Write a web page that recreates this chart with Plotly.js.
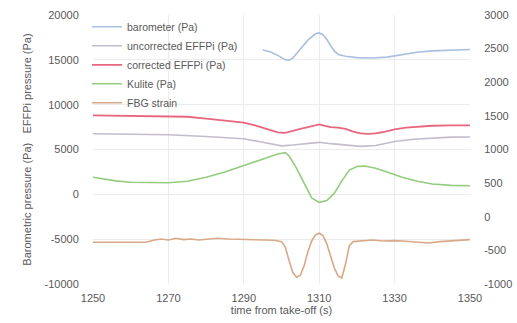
<!DOCTYPE html>
<html>
<head>
<meta charset="utf-8">
<script src="https://cdn.plot.ly/plotly-3.0.1.min.js"></script>
<style>html,body{margin:0;padding:0;background:#fff;}#chart{width:517px;height:323px;}</style>
</head>
<body>
<div id="chart"></div>
<script>
// barometer (Pa) - left axis
const baroT = [1295,1297,1299,1301,1302,1303,1305,1307,1309,1310,1311,1312,1313,1314,1315,1317,1320,1324,1328,1332,1336,1340,1345,1350];
const baroV = [16100,15900,15500,15000,14950,15200,16200,17200,17900,18000,17800,17300,16600,16000,15600,15400,15250,15200,15300,15600,15850,16000,16100,16150];

// uncorrected EFFPi (Pa) - left axis
const uncT = [1250,1260,1270,1280,1290,1295,1300,1303,1307,1310,1313,1317,1321,1325,1330,1335,1340,1345,1350];
const uncV = [6750,6720,6650,6450,6200,5800,5400,5500,5700,5800,5650,5500,5350,5450,5900,6150,6300,6380,6400];

// corrected EFFPi (Pa) - left axis
const corT = [1250,1255,1260,1265,1270,1275,1280,1285,1290,1293,1296,1299,1301,1303,1305,1307,1309,1310,1311,1313,1315,1317,1319,1321,1323,1325,1327,1330,1333,1337,1340,1345,1350];
const corV = [8800,8780,8760,8750,8700,8650,8450,8250,8000,7700,7300,6900,6850,7100,7300,7500,7750,7800,7700,7500,7450,7300,7000,6800,6750,6800,6950,7250,7450,7600,7650,7700,7700];

// Kulite (Pa) - left axis
const kulT = [1250,1253,1256,1260,1265,1270,1275,1280,1285,1290,1295,1299,1301,1302,1304,1306,1308,1310,1312,1314,1316,1318,1320,1322,1325,1328,1332,1336,1340,1345,1350];
const kulV = [1900,1700,1500,1350,1300,1300,1450,1900,2500,3200,3900,4500,4650,4300,2900,1200,-400,-900,-700,100,1500,2700,3100,3150,2900,2500,1900,1450,1150,1000,950];

// FBG strain - right axis
const fbgT = [1250,1255,1260,1264,1266,1268,1270,1272,1274,1276,1278,1280,1283,1286,1290,1294,1298,1300,1301,1302,1303,1304,1305,1306,1307,1308,1309,1310,1311,1312,1313,1314,1315,1316,1317,1318,1319,1321,1324,1327,1330,1333,1336,1339,1342,1345,1348,1350];
const fbgV = [-380,-382,-385,-380,-350,-330,-345,-320,-340,-330,-345,-335,-320,-330,-340,-345,-350,-370,-450,-650,-830,-900,-870,-730,-520,-360,-270,-245,-280,-400,-580,-760,-880,-910,-700,-430,-370,-360,-345,-360,-355,-365,-375,-390,-370,-355,-345,-340];

const xTicks = [1250,1270,1290,1310,1330,1350];
const leftTicks = [-10000,-5000,0,5000,10000,15000,20000];
const rightTicks = [-1000,-500,0,500,1000,1500,2000,2500,3000];

const font = "Liberation Sans, Arial, sans-serif";
const txt = "#595959";
const clear = "rgba(0,0,0,0)";
const nb = "\u00a0";

const traces = [
  {x: baroT, y: baroV, name: "barometer (Pa)", type: "scatter", mode: "lines", line: {color: "#a9bfdf", width: 1.6}, yaxis: "y"},
  {x: uncT, y: uncV, name: "uncorrected EFFPi (Pa)", type: "scatter", mode: "lines", line: {color: "#c3bccf", width: 1.6}, yaxis: "y"},
  {x: corT, y: corV, name: "corrected EFFPi (Pa)", type: "scatter", mode: "lines", line: {color: "#e8667e", width: 1.8}, yaxis: "y"},
  {x: kulT, y: kulV, name: "Kulite (Pa)", type: "scatter", mode: "lines", line: {color: "#93cc7e", width: 1.6}, yaxis: "y"},
  {x: fbgT, y: fbgV, name: "FBG strain", type: "scatter", mode: "lines", line: {color: "#d9a888", width: 1.6}, yaxis: "y2"}
];

const layout = {
  width: 517, height: 323,
  margin: {l: 93, r: 47, t: 13, b: 39},
  paper_bgcolor: "#fff", plot_bgcolor: "#fff",
  font: {family: font, size: 11, color: txt},
  showlegend: true,
  legend: {x: -0.016, y: 1.01, xanchor: "left", yanchor: "top", bgcolor: clear,
           font: {family: font, size: 10.5, color: txt}, tracegroupgap: 0, itemwidth: 30},
  xaxis: {range: [1250, 1350], tickvals: xTicks, ticktext: xTicks.map(String), showgrid: true,
          gridcolor: "#ececec", zeroline: false, showline: false, ticks: "outside", ticklen: 4, tickcolor: clear,
          tickfont: {family: font, size: 11, color: txt},
          title: {text: "time from take-off (s)", font: {family: font, size: 11, color: txt}, standoff: 3}},
  yaxis: {range: [-10000, 20000], tickvals: leftTicks, ticktext: leftTicks.map(String), showgrid: true,
          gridcolor: "#ececec", zeroline: false, showline: false, ticks: "outside", ticklen: 11, tickcolor: clear,
          tickfont: {family: font, size: 11, color: txt},
          title: {text: "Barometric pressure (Pa)" + nb + nb + nb + "EFFPi pressure (Pa)" + nb.repeat(5), font: {family: font, size: 11, color: txt}, standoff: 10}},
  yaxis2: {range: [-1000, 3000], tickvals: rightTicks, ticktext: rightTicks.map(String), overlaying: "y", side: "right",
           showgrid: false, zeroline: false, showline: false, ticks: "outside", ticklen: 11, tickcolor: clear,
           tickfont: {family: font, size: 11, color: txt}}
};

Plotly.newPlot("chart", traces, layout, {displayModeBar: false, staticPlot: true});
</script>
</body>
</html>
